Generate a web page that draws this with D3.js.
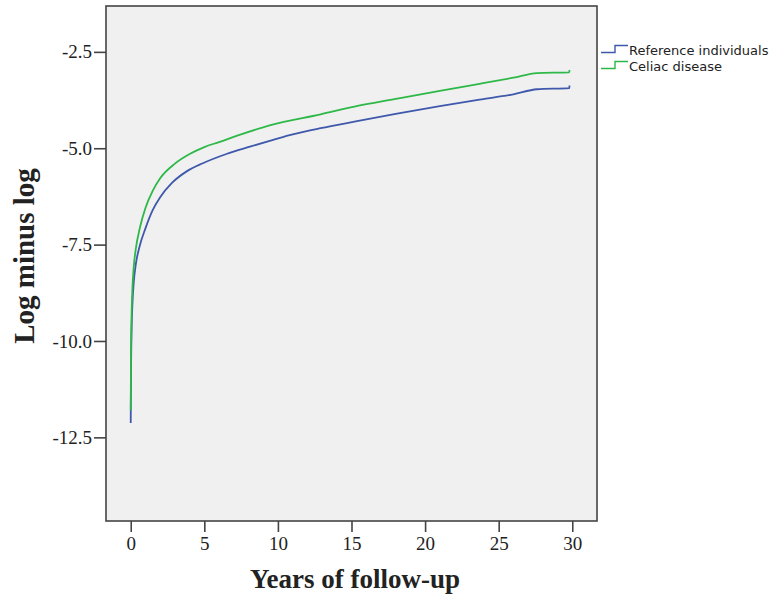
<!DOCTYPE html>
<html>
<head>
<meta charset="utf-8">
<script src="https://cdn.jsdelivr.net/npm/d3@7"></script>
<style>
  body { margin: 0; background: #fff; }
  svg text { fill: #222; }
</style>
</head>
<body>
<script>
// years of follow-up vs log minus log
var refYears   = [0, 0.02, 0.06, 0.12, 0.2, 0.35, 0.6, 1.0, 1.5, 2.0, 2.8, 3.8, 4.9, 6.5, 8.1, 9.5, 10.8, 12.9, 15.2, 18, 21, 23.7, 26, 27.6, 29.8, 29.81];
var refValues  = [-12.13, -10.8, -9.7, -9.0, -8.5, -8.0, -7.55, -7.08, -6.6, -6.27, -5.9, -5.6, -5.39, -5.15, -4.96, -4.8, -4.66, -4.48, -4.31, -4.11, -3.91, -3.74, -3.6, -3.47, -3.44, -3.37];
var celYears   = [0, 0.02, 0.06, 0.12, 0.2, 0.35, 0.63, 1.0, 1.5, 2.0, 3.0, 4.0, 5.0, 6.0, 7.5, 9.5, 12.9, 15.2, 18, 21, 23.7, 26, 27.6, 29.8, 29.81];
var celValues  = [-11.8, -10.3, -9.3, -8.6, -8.1, -7.6, -7.05, -6.55, -6.1, -5.78, -5.4, -5.15, -4.97, -4.84, -4.64, -4.4, -4.12, -3.92, -3.72, -3.51, -3.33, -3.17, -3.05, -3.03, -2.97];
var seriesNames = ['Reference individuals', 'Celiac disease'];
var seriesColors = ['#3e58ac', '#2eb848'];
var xTicks = [0, 5, 10, 15, 20, 25, 30];
var yTicks = [-2.5, -5.0, -7.5, -10.0, -12.5];

var width = 773, height = 598;
var plotLeft = 106, plotTop = 6, plotRight = 597, plotBottom = 521;

var svg = d3.select('body').append('svg')
    .attr('width', width)
    .attr('height', height);

var x = d3.scaleLinear().domain([-1.68, 31.68]).range([plotLeft, plotRight]);
var y = d3.scaleLinear().domain([-14.67, -1.31]).range([plotBottom, plotTop]);

// plot background
svg.append('rect')
   .attr('x', plotLeft).attr('y', plotTop)
   .attr('width', plotRight - plotLeft).attr('height', plotBottom - plotTop)
   .attr('fill', '#f0f0f0')
   .attr('stroke', '#444')
   .attr('stroke-width', 1.6);

var serif = '"Liberation Serif", "Times New Roman", serif';

// x axis
var xAxis = svg.append('g')
   .attr('transform', 'translate(0,' + plotBottom + ')')
   .call(d3.axisBottom(x).tickValues(xTicks).tickSize(11).tickPadding(5).tickFormat(d3.format('d')));
xAxis.select('.domain').remove();
xAxis.selectAll('line').attr('stroke', '#444').attr('stroke-width', 1.6);
xAxis.selectAll('text')
   .attr('font-family', serif).attr('font-size', 19).attr('fill', '#222');

// y axis
var yAxis = svg.append('g')
   .attr('transform', 'translate(' + plotLeft + ',0)')
   .call(d3.axisLeft(y).tickValues(yTicks).tickSize(12).tickPadding(2));
yAxis.select('.domain').remove();
yAxis.selectAll('line').attr('stroke', '#444').attr('stroke-width', 1.6);
yAxis.selectAll('text')
   .attr('font-family', serif).attr('font-size', 19).attr('fill', '#222')
   .text(function(d) { return d.toFixed(1); });

// titles
svg.append('text')
   .attr('x', 355).attr('y', 588)
   .attr('text-anchor', 'middle')
   .attr('font-family', serif).attr('font-weight', 'bold').attr('font-size', 27)
   .text('Years of follow-up');

svg.append('text')
   .attr('transform', 'translate(34,256) rotate(-90)')
   .attr('text-anchor', 'middle')
   .attr('font-family', serif).attr('font-weight', 'bold').attr('font-size', 29)
   .text('Log minus log');

// curves
var line = d3.line()
   .x(function(d) { return x(d[0]); })
   .y(function(d) { return y(d[1]); })
   .curve(d3.curveMonotoneX);

var series = [d3.zip(refYears, refValues), d3.zip(celYears, celValues)];

svg.selectAll('path.curve')
   .data(series)
   .enter()
   .append('path')
   .attr('class', 'curve')
   .attr('d', line)
   .attr('fill', 'none')
   .attr('stroke', function(d, i) { return seriesColors[i]; })
   .attr('stroke-width', 1.8);

// legend with little step symbols
var legend = svg.selectAll('g.legend')
   .data(seriesNames)
   .enter()
   .append('g')
   .attr('class', 'legend')
   .attr('transform', function(d, i) { return 'translate(601,' + (52.5 + i * 16) + ')'; });

legend.append('path')
   .attr('d', 'M0,0H14V-7H27')
   .attr('fill', 'none')
   .attr('stroke', function(d, i) { return seriesColors[i]; })
   .attr('stroke-width', 1.4);

legend.append('text')
   .attr('x', 28).attr('y', 2.5)
   .attr('font-family', '"DejaVu Sans", sans-serif').attr('font-size', 13)
   .text(function(d) { return d; });
</script>
</body>
</html>
